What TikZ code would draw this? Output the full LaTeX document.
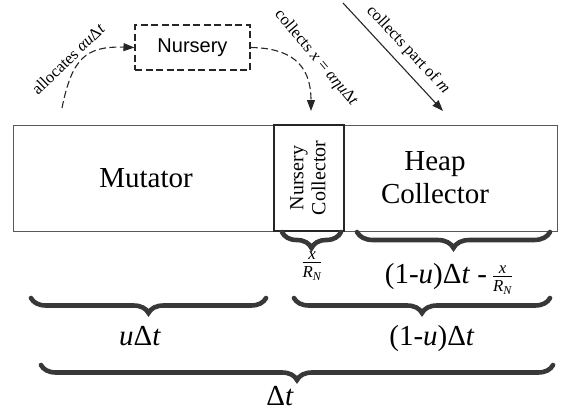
\documentclass[tikz,border=0pt]{standalone}
\usepackage{amsmath}
\usepackage{fontspec}
\setmainfont{Liberation Serif}
\newfontfamily\sansf{Liberation Sans}
\usetikzlibrary{decorations.pathreplacing,arrows.meta}
\tikzset{
  lbl/.style={font=\fontsize{16.5}{18}\selectfont, inner sep=0pt},
  big/.style={font=\fontsize{29}{33}\selectfont, inner sep=0pt, align=center},
  frc/.style={font=\fontsize{24}{26}\selectfont, inner sep=0pt},
  cell/.style={draw=black!65, line width=0.8pt, minimum height=106pt, inner sep=0pt},
  brc/.style={decorate, decoration={brace, mirror, amplitude=#1}, line width=4.6pt, draw=black!78, line cap=round},
  dsh/.style={draw=black!85, line width=1.1pt, dash pattern=on 7pt off 3.5pt},
  tip/.style={-{Triangle[length=11pt,width=8pt]}},
}
\begin{document}
\begin{tikzpicture}[x=1pt,y=-1pt]
\useasboundingbox (0,0) rectangle (564,413);
% main bar
\node[cell, minimum width=261pt] (mut) at (143.5,178) {};
\node[cell, minimum width=213pt] (heap) at (450.5,178) {};
\node[cell, draw=black!85, line width=1.3pt, minimum width=70pt] (nc) at (309,178) {};
\node[big] (mutt) at (146,178) {Mutator};
\node[big] (heapt) at (435,178) {Heap\\Collector};
\node[font=\fontsize{20}{22}\selectfont, rotate=90, align=center, inner sep=0pt] (nct) at (308,178) {Nursery\\Collector};
% nursery
\node[draw=black!85, line width=1.1pt, dash pattern=on 7pt off 3.5pt, minimum width=115pt, minimum height=45pt,
      font=\sansf\fontsize{20}{22}\selectfont] (nur) at (192.5,47.5) {Nursery};
\coordinate (a0) at (62,108);
\coordinate (c1) at (311,111);
\coordinate (p0) at (343,3);
\coordinate (p1) at (443,111);
\draw[dsh, tip] (a0) .. controls (72,58) and (86,46) .. (nur.west);
\draw[dsh, tip] (nur.east) .. controls (288,48) and (311,62) .. (c1);
\draw[line width=1.1pt, draw=black!85, tip] (p0) -- (p1);
\node[lbl, rotate=44] (al) at (68,59) {allocates \textit{αu}Δ\textit{t}};
\node[lbl, rotate=-50] (cl) at (316,58) {collects \textit{x} = \textit{αηu}Δ\textit{t}};
\node[lbl, rotate=-47] (cp) at (408,50) {collects part of \textit{m}};
% braces
\coordinate (b1a) at (282,232); \coordinate (b1b) at (341,232);
\coordinate (b2a) at (357,232); \coordinate (b2b) at (550,232);
\coordinate (b3a) at (31,298); \coordinate (b3b) at (266,298);
\coordinate (b4a) at (294,298); \coordinate (b4b) at (550,298);
\coordinate (b5a) at (41,365); \coordinate (b5b) at (553,365);
\draw[brc=16pt] (b1a) -- (b1b);
\draw[brc=16pt] (b2a) -- (b2b);
\draw[brc=15pt] (b3a) -- (b3b);
\draw[brc=15pt] (b4a) -- (b4b);
\draw[brc=15pt] (b5a) -- (b5b);
\node[frc] (f1) at (312,266) {$\frac{\textit{x}}{\textit{R}_{\textit{N}}}$};
\node[big, anchor=base] (l2) at (449,283) {(1-\textit{u})Δ\textit{t} -\,{\fontsize{24}{26}\selectfont$\frac{\textit{x}}{\textit{R}_{\textit{N}}}$}};
\node[big, anchor=base] (l3) at (140,345) {\textit{u}Δ\textit{t}};
\node[big, anchor=base] (l4) at (432,345) {(1-\textit{u})Δ\textit{t}};
\node[big, anchor=base] (l5) at (280,405) {Δ\textit{t}};
\end{tikzpicture}
\end{document}
